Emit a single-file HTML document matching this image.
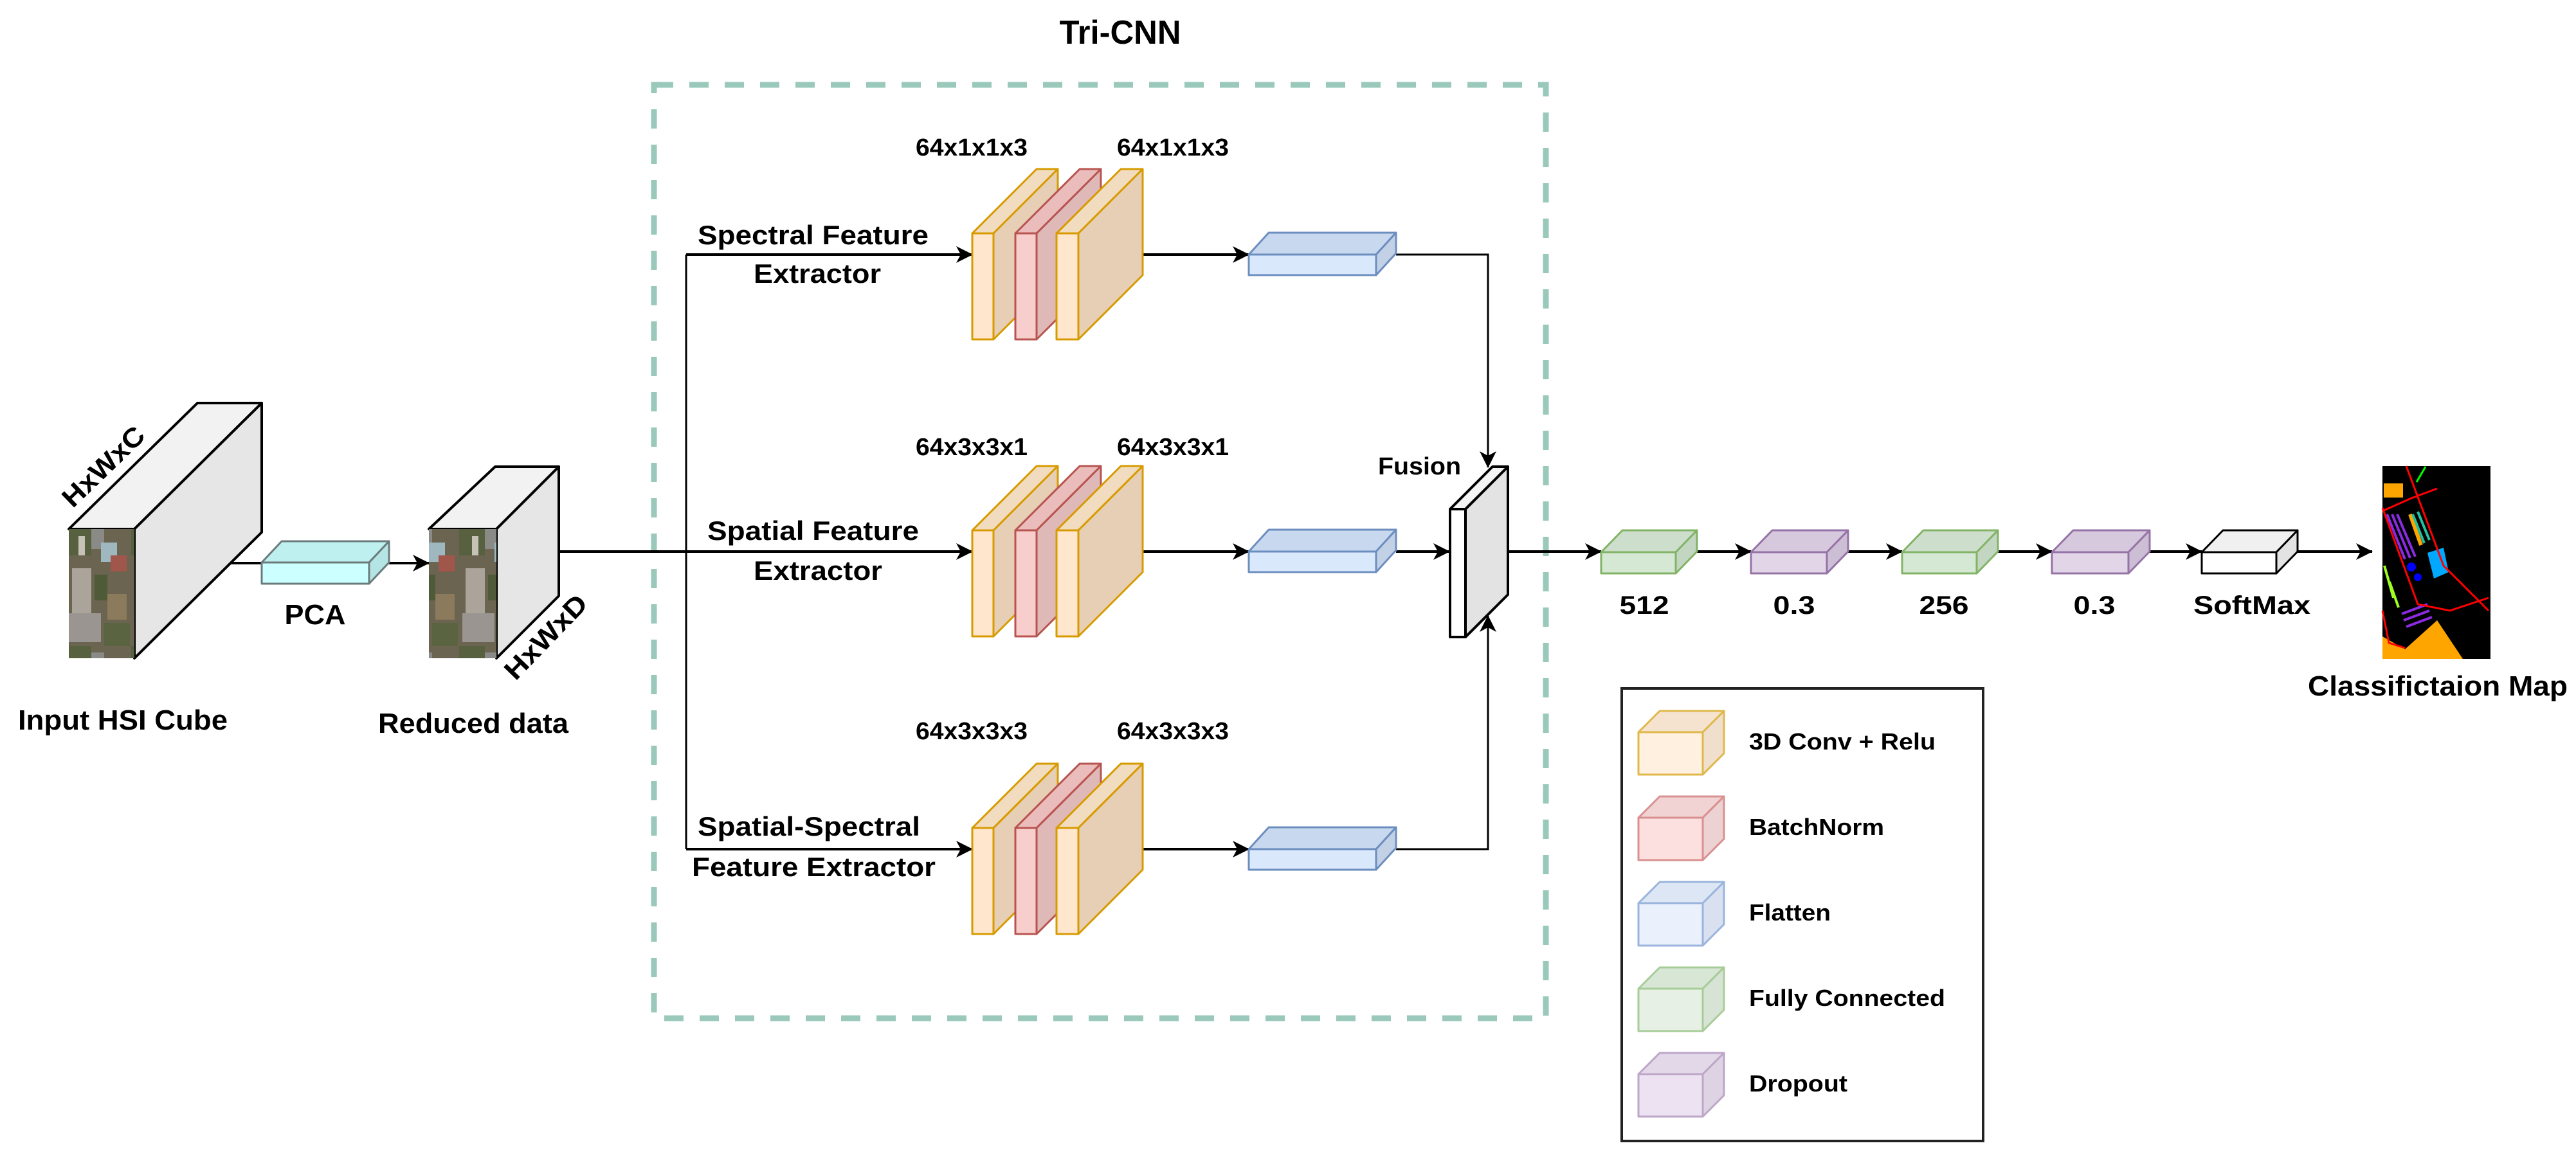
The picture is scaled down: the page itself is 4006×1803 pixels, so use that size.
<!DOCTYPE html>
<html><head><meta charset="utf-8"><style>
html,body{margin:0;padding:0;background:#fff;}
svg{display:block;}
text{font-family:"Liberation Sans",Arial,sans-serif;font-weight:bold;fill:#000;}
</style></head><body>
<svg width="4006" height="1803" viewBox="0 0 4006 1803" xmlns="http://www.w3.org/2000/svg">
<defs>
<marker id="ar" viewBox="0 0 26 26" refX="25" refY="13" markerWidth="26" markerHeight="26" markerUnits="userSpaceOnUse" orient="auto" overflow="visible">
<path d="M0,0 L26,13 L0,26 L7,13 Z" fill="#000"/>
</marker>
<pattern id="hsi" width="102" height="201" patternUnits="userSpaceOnUse">
<rect width="102" height="201" fill="#6b6450"/>
<rect x="0" y="0" width="40" height="60" fill="#57603f"/>
<rect x="40" y="10" width="20" height="40" fill="#8a8a86"/>
<rect x="55" y="40" width="25" height="30" fill="#9fb8c0"/>
<rect x="70" y="60" width="25" height="25" fill="#a0564a"/>
<rect x="10" y="80" width="30" height="70" fill="#aaa49a"/>
<rect x="45" y="90" width="20" height="40" fill="#4f5a38"/>
<rect x="65" y="120" width="30" height="40" fill="#8b7a5c"/>
<rect x="5" y="150" width="50" height="45" fill="#9a9590"/>
<rect x="60" y="165" width="40" height="36" fill="#5a6440"/>
<rect x="20" y="30" width="10" height="30" fill="#c7c2b8"/>
</pattern>
</defs>

<rect x="1017" y="132" width="1387" height="1452" fill="none" stroke="#9ac9bb" stroke-width="9" stroke-dasharray="30 25"/>
<text x="1742" y="68" font-size="52" text-anchor="middle" textLength="189" lengthAdjust="spacingAndGlyphs">Tri-CNN</text>

<g stroke="#000" stroke-width="4" stroke-linejoin="round">
<polygon points="107,823 307,627 407,627 209,823" fill="#f2f2f2"/>
<polygon points="209,823 407,627 407,828 209,1024" fill="#e6e6e6"/>
<rect x="107" y="823" width="102" height="201" fill="url(#hsi)" stroke="none"/>
</g>
<line x1="358" y1="876" x2="667" y2="876" stroke="#000" stroke-width="4" marker-end="url(#ar)"/>
<g stroke="#6b7b7b" stroke-width="3" stroke-linejoin="round">
<polygon points="407,875 438,842 605,842 574,875" fill="#bff0f0"/>
<polygon points="574,875 605,842 605,875 574,908" fill="#b5e4e4"/>
<rect x="407" y="875" width="167" height="33" fill="#ccffff"/>
</g>
<g stroke="#000" stroke-width="4" stroke-linejoin="round">
<polygon points="667,823 770,726 869,726 772,823" fill="#f2f2f2"/>
<polygon points="772,823 869,726 869,927 772,1024" fill="#e6e6e6"/>
<rect x="667" y="823" width="105" height="201" fill="url(#hsi)" stroke="none"/>
</g>
<text x="161" y="740" font-size="42" text-anchor="middle" textLength="160" lengthAdjust="spacingAndGlyphs" transform="rotate(-44 161 726)">HxWxC</text>
<text x="849" y="1005" font-size="42" text-anchor="middle" textLength="165" lengthAdjust="spacingAndGlyphs" transform="rotate(-46 849 991)">HxWxD</text>
<text x="191" y="1135" font-size="44" text-anchor="middle" textLength="326" lengthAdjust="spacingAndGlyphs">Input HSI Cube</text>
<text x="490" y="971" font-size="44" text-anchor="middle" textLength="95" lengthAdjust="spacingAndGlyphs">PCA</text>
<text x="736" y="1140" font-size="44" text-anchor="middle" textLength="296" lengthAdjust="spacingAndGlyphs">Reduced data</text>

<g stroke="#000" stroke-width="4" fill="none">
<line x1="869" y1="858" x2="1067" y2="858"/>
<polyline points="1067,396 1067,1321" stroke-width="3"/>
<line x1="1067" y1="396" x2="1512" y2="396" marker-end="url(#ar)"/>
<line x1="1067" y1="858" x2="1512" y2="858" marker-end="url(#ar)"/>
<line x1="1067" y1="1321" x2="1512" y2="1321" marker-end="url(#ar)"/>
<line x1="1775" y1="396" x2="1942" y2="396" marker-end="url(#ar)"/>
<line x1="1775" y1="858" x2="1942" y2="858" marker-end="url(#ar)"/>
<line x1="1775" y1="1321" x2="1942" y2="1321" marker-end="url(#ar)"/>
<polyline points="2171,396 2314,396 2314,727" stroke-width="3" marker-end="url(#ar)"/>
<polyline points="2171,1321 2314,1321 2314,958" stroke-width="3" marker-end="url(#ar)"/>
<line x1="2171" y1="858" x2="2254" y2="858" marker-end="url(#ar)"/>
<line x1="2346" y1="858" x2="2490" y2="858" marker-end="url(#ar)"/>
<line x1="2639" y1="858" x2="2723" y2="858" marker-end="url(#ar)"/>
<line x1="2874" y1="858" x2="2958" y2="858" marker-end="url(#ar)"/>
<line x1="3107" y1="858" x2="3191" y2="858" marker-end="url(#ar)"/>
<line x1="3343" y1="858" x2="3424" y2="858" marker-end="url(#ar)"/>
<line x1="3573" y1="858" x2="3689" y2="858" marker-end="url(#ar)"/>
</g>

<g id="r1" stroke-width="3" stroke-linejoin="round">
<g stroke="#d79b00">
<polygon points="1512,363 1612,263 1645,263 1545,363" fill="#f2dcc0"/>
<polygon points="1545,363 1645,263 1645,428 1545,528" fill="#e6cfb5"/>
<rect x="1512" y="363" width="33" height="165" fill="#ffe6cc"/>
</g>
<g stroke="#b85450">
<polygon points="1579,363 1679,263 1712,263 1612,363" fill="#ebbcbc"/>
<polygon points="1612,363 1712,263 1712,428 1612,528" fill="#dfb8b8"/>
<rect x="1579" y="363" width="33" height="165" fill="#f8cecc"/>
</g>
<g stroke="#d79b00">
<polygon points="1643,363 1743,263 1777,263 1677,363" fill="#f2dcc0"/>
<polygon points="1677,363 1777,263 1777,428 1677,528" fill="#e6cfb5"/>
<rect x="1643" y="363" width="34" height="165" fill="#ffe6cc"/>
</g>
<g stroke="#6c8ebf">
<polygon points="1942,396 1973,362 2171,362 2140,396" fill="#c8d8ee"/>
<polygon points="2140,396 2171,362 2171,394 2140,428" fill="#c3d1e6"/>
<rect x="1942" y="396" width="198" height="32" fill="#dae8fc"/>
</g>
</g>
<use href="#r1" transform="translate(0,462)"/>
<use href="#r1" transform="translate(0,925)"/>

<g font-size="38">
<text x="1511" y="242" text-anchor="middle" textLength="174" lengthAdjust="spacingAndGlyphs">64x1x1x3</text>
<text x="1824" y="242" text-anchor="middle" textLength="174" lengthAdjust="spacingAndGlyphs">64x1x1x3</text>
<text x="1511" y="708" text-anchor="middle" textLength="174" lengthAdjust="spacingAndGlyphs">64x3x3x1</text>
<text x="1824" y="708" text-anchor="middle" textLength="174" lengthAdjust="spacingAndGlyphs">64x3x3x1</text>
<text x="1511" y="1150" text-anchor="middle" textLength="174" lengthAdjust="spacingAndGlyphs">64x3x3x3</text>
<text x="1824" y="1150" text-anchor="middle" textLength="174" lengthAdjust="spacingAndGlyphs">64x3x3x3</text>
</g>
<g font-size="42">
<text x="1085" y="380" textLength="359" lengthAdjust="spacingAndGlyphs">Spectral Feature</text>
<text x="1172" y="440" textLength="198" lengthAdjust="spacingAndGlyphs">Extractor</text>
<text x="1100" y="840" textLength="329" lengthAdjust="spacingAndGlyphs">Spatial Feature</text>
<text x="1172" y="902" textLength="200" lengthAdjust="spacingAndGlyphs">Extractor</text>
<text x="1085" y="1300" textLength="346" lengthAdjust="spacingAndGlyphs">Spatial-Spectral</text>
<text x="1076" y="1363" textLength="379" lengthAdjust="spacingAndGlyphs">Feature Extractor</text>
</g>

<g stroke="#000" stroke-width="4" stroke-linejoin="round">
<polygon points="2255,792 2321,726 2345,726 2279,792" fill="#f5f5f5"/>
<polygon points="2279,792 2345,726 2345,925 2279,991" fill="#e3e3e3"/>
<rect x="2255" y="792" width="24" height="199" fill="#fff"/>
</g>
<text x="2143" y="738" font-size="38" textLength="129" lengthAdjust="spacingAndGlyphs">Fusion</text>

<g stroke-width="3" stroke-linejoin="round">
<g stroke="#82b366"><polygon points="2490,859 2523,825 2639,825 2606,859" fill="#cddfcc"/><polygon points="2606,859 2639,825 2639,858 2606,892" fill="#c3d6c2"/><rect x="2490" y="859" width="116" height="33" fill="#d5e8d4"/></g>
<g stroke="#9673a6"><polygon points="2723,859 2756,825 2874,825 2841,859" fill="#d6c8dd"/><polygon points="2841,859 2874,825 2874,858 2841,892" fill="#ccbed4"/><rect x="2723" y="859" width="118" height="33" fill="#e1d5e7"/></g>
<g stroke="#82b366"><polygon points="2958,859 2991,825 3107,825 3074,859" fill="#cddfcc"/><polygon points="3074,859 3107,825 3107,858 3074,892" fill="#c3d6c2"/><rect x="2958" y="859" width="116" height="33" fill="#d5e8d4"/></g>
<g stroke="#9673a6"><polygon points="3191,859 3224,825 3343,825 3310,859" fill="#d6c8dd"/><polygon points="3310,859 3343,825 3343,858 3310,892" fill="#ccbed4"/><rect x="3191" y="859" width="119" height="33" fill="#e1d5e7"/></g>
<g stroke="#000"><polygon points="3424,859 3457,825 3573,825 3540,859" fill="#f0f0f0"/><polygon points="3540,859 3573,825 3573,858 3540,892" fill="#e3e3e3"/><rect x="3424" y="859" width="116" height="33" fill="#fff"/></g>
</g>
<g font-size="40">
<text x="2557" y="955" text-anchor="middle" textLength="77" lengthAdjust="spacingAndGlyphs">512</text>
<text x="2790" y="955" text-anchor="middle" textLength="65" lengthAdjust="spacingAndGlyphs">0.3</text>
<text x="3023" y="955" text-anchor="middle" textLength="77" lengthAdjust="spacingAndGlyphs">256</text>
<text x="3257" y="955" text-anchor="middle" textLength="65" lengthAdjust="spacingAndGlyphs">0.3</text>
<text x="3502" y="955" text-anchor="middle" textLength="182" lengthAdjust="spacingAndGlyphs">SoftMax</text>
</g>

<g>
<rect x="3705" y="725" width="168" height="300" fill="#000"/>
<polygon points="3705,1025 3705,990 3740,1010 3790,965 3830,1025" fill="#ffa500"/>
<rect x="3707" y="752" width="30" height="22" fill="#ffa500"/>
<g stroke="#8a2be2" stroke-width="4"><line x1="3712" y1="800" x2="3740" y2="870"/><line x1="3720" y1="800" x2="3748" y2="868"/><line x1="3728" y1="800" x2="3756" y2="866"/><line x1="3735" y1="955" x2="3775" y2="940"/><line x1="3738" y1="965" x2="3778" y2="950"/><line x1="3742" y1="975" x2="3782" y2="960"/></g>
<line x1="3748" y1="800" x2="3765" y2="848" stroke="#ffa500" stroke-width="6"/>
<g stroke="#20c0a0" stroke-width="4"><line x1="3752" y1="800" x2="3770" y2="845"/><line x1="3760" y1="796" x2="3778" y2="840"/></g>
<polygon points="3775,860 3800,852 3808,890 3785,900" fill="#00a8ff"/>
<circle cx="3750" cy="882" r="7" fill="#0000ff"/><circle cx="3760" cy="898" r="6" fill="#0000ff"/>
<g stroke="#a0ff20" stroke-width="4"><line x1="3708" y1="880" x2="3722" y2="930"/><line x1="3716" y1="905" x2="3730" y2="945"/></g>
<polyline points="3742,725 3800,880 3870,950" fill="none" stroke="#ff0000" stroke-width="3"/>
<polyline points="3705,795 3750,775 3790,760" fill="none" stroke="#ff0000" stroke-width="3"/>
<polyline points="3705,790 3760,940 3810,950 3870,930" fill="none" stroke="#ff0000" stroke-width="3"/>
<polyline points="3705,950 3715,1000 3740,1008" fill="none" stroke="#ff0000" stroke-width="3"/>
<line x1="3758" y1="750" x2="3772" y2="726" stroke="#00ff00" stroke-width="3"/>
</g>
<text x="3589" y="1082" font-size="44" textLength="404" lengthAdjust="spacingAndGlyphs">Classifictaion Map</text>

<rect x="2522" y="1071" width="562" height="704" fill="#fff" stroke="#222" stroke-width="4"/>
<g stroke-width="3" stroke-linejoin="round">
<g stroke="#e0b84a"><polygon points="2548,1139 2581,1106 2681,1106 2648,1139" fill="#f5e3d0"/><polygon points="2648,1139 2681,1106 2681,1172 2648,1205" fill="#efdfcc"/><rect x="2548" y="1139" width="100" height="66" fill="#fff0e0"/></g>
<g stroke="#d99090"><polygon points="2548,1272 2581,1239 2681,1239 2648,1272" fill="#f2d3d3"/><polygon points="2648,1272 2681,1239 2681,1305 2648,1338" fill="#ecd2d2"/><rect x="2548" y="1272" width="100" height="66" fill="#fce0e0"/></g>
<g stroke="#9ab4dc"><polygon points="2548,1405 2581,1372 2681,1372 2648,1405" fill="#dde6f4"/><polygon points="2648,1405 2681,1372 2681,1438 2648,1471" fill="#d9e1f0"/><rect x="2548" y="1405" width="100" height="66" fill="#eaf1fd"/></g>
<g stroke="#a8cc98"><polygon points="2548,1538 2581,1505 2681,1505 2648,1538" fill="#d8e6d6"/><polygon points="2648,1538 2681,1505 2681,1571 2648,1604" fill="#d7e3d5"/><rect x="2548" y="1538" width="100" height="66" fill="#e6f0e5"/></g>
<g stroke="#bda6c8"><polygon points="2548,1671 2581,1638 2681,1638 2648,1671" fill="#e2d8e8"/><polygon points="2648,1671 2681,1638 2681,1704 2648,1737" fill="#ddd3e3"/><rect x="2548" y="1671" width="100" height="66" fill="#ece2f1"/></g>
</g>
<g font-size="36">
<text x="2720" y="1166" textLength="290" lengthAdjust="spacingAndGlyphs">3D Conv + Relu</text>
<text x="2720" y="1299" textLength="210" lengthAdjust="spacingAndGlyphs">BatchNorm</text>
<text x="2720" y="1432" textLength="127" lengthAdjust="spacingAndGlyphs">Flatten</text>
<text x="2720" y="1565" textLength="305" lengthAdjust="spacingAndGlyphs">Fully Connected</text>
<text x="2720" y="1698" textLength="153" lengthAdjust="spacingAndGlyphs">Dropout</text>
</g>
</svg>
</body></html>
